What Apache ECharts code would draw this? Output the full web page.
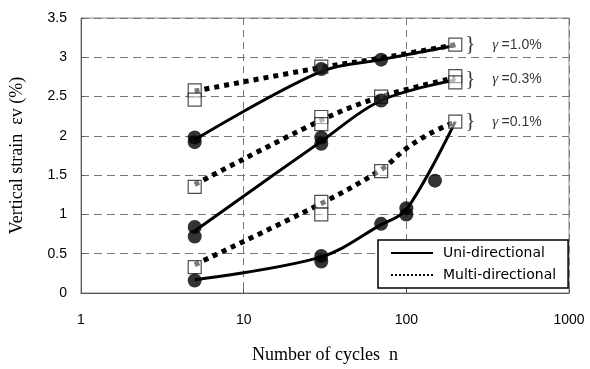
<!DOCTYPE html>
<html><head><meta charset="utf-8">
<script src="https://cdn.jsdelivr.net/npm/echarts@6/dist/echarts.min.js"></script>
<style>html,body{margin:0;padding:0;background:#fff}#c{width:590px;height:369px}</style>
</head><body><div id="c"></div>
<script>
// ---- data ----
const xMin = 1, xMax = 1000;
const yMin = 0, yMax = 3.5, yStep = 0.5;

// fitted curves (cycles, vertical strain %)
const uniCurve10  = [[5,1.95],[30,2.82],[70,2.97],[200,3.15]];
const multiCurve10 = [[5,2.57],[30,2.87],[70,2.99],[200,3.16]];
const uniCurve03  = [[5,0.79],[30,1.93],[70,2.45],[200,2.71]];
const multiCurve03 = [[5,1.38],[30,2.2],[70,2.5],[200,2.74]];
const uniCurve01  = [[5,0.17],[30,0.46],[70,0.87],[100,1.06],[200,2.18]];
const multiCurve01 = [[5,0.36],[30,1.14],[70,1.57],[100,1.84],[140,2.03],[200,2.18]];

// measured points
const uniPoints = [
  [5,1.98],[5,1.92],[30,2.85],[70,2.97],
  [5,0.84],[5,0.72],[30,1.98],[30,1.9],[70,2.45],
  [5,0.16],[30,0.47],[30,0.4],[70,0.88],[100,1.08],[100,1.0],[150,1.43]
];
const multiPoints = [
  [5,2.58],[5,2.46],[30,2.88],[200,3.16],
  [5,1.35],[30,2.24],[30,2.15],[70,2.5],[200,2.76],[200,2.68],
  [5,0.33],[30,1.16],[30,1.0],[70,1.55],[200,2.18]
];

// strain-amplitude annotations
const gammaText = ['=1.0%', '=0.3%', '=0.1%'];
const gammaAnchor = [[200,3.16],[200,2.72],[200,2.18]];

const uniName = 'Uni-directional';
const multiName = 'Multi-directional';

function uniCurve(data) {
  return {type:'line', name:uniName, data:data, symbol:'none', smooth:0.35, z:2, silent:true,
          lineStyle:{color:'#000', width:3, type:'solid'}, itemStyle:{color:'#000'}};
}
function multiCurve(data) {
  return {type:'line', name:multiName, data:data, symbol:'none', smooth:0.35, z:2, silent:true,
          lineStyle:{color:'#000', width:5, type:'dotted'}, itemStyle:{color:'#000'}};
}

const chart = echarts.init(document.getElementById('c'), null, {renderer:'canvas'});
chart.setOption({
  animation:false,
  backgroundColor:'#fff',
  grid:{left:81, right:21, top:18, bottom:75, show:true, borderColor:'#888', borderWidth:1},
  legend:{
    data:[uniName, multiName], orient:'vertical', left:378, top:240,
    padding:[6,12,6,12], itemGap:8, itemWidth:42, itemHeight:14,
    backgroundColor:'#fff', borderColor:'#000', borderWidth:1.5,
    itemStyle:{color:'rgba(0,0,0,0)', borderWidth:0, opacity:0},
    textStyle:{fontFamily:'DejaVu Sans', fontSize:14, color:'#000', padding:[0,0,0,5]}
  },
  xAxis:{
    type:'log', logBase:10, min:xMin, max:xMax,
    name:'Number of cycles  n', nameLocation:'middle', nameGap:53,
    nameTextStyle:{fontFamily:'Liberation Serif', fontSize:18, color:'#000'},
    axisLine:{show:true, lineStyle:{color:'#555', width:1}},
    axisTick:{show:true, inside:true, length:4, lineStyle:{color:'#555'}},
    axisLabel:{fontFamily:'Liberation Sans', fontSize:14, color:'#000', margin:20,
               formatter:function(v){ return String(Math.round(v)); }},
    splitLine:{show:true, lineStyle:{color:'#777', type:[7,5], width:1}}
  },
  yAxis:{
    type:'value', min:yMin, max:yMax, interval:yStep,
    name:'Vertical strain  εv (%)', nameLocation:'middle', nameGap:55,
    nameTextStyle:{fontFamily:'Liberation Serif', fontSize:18, color:'#000'},
    axisLine:{show:true, lineStyle:{color:'#555', width:1}},
    axisTick:{show:true, inside:true, length:3, lineStyle:{color:'#555'}},
    axisLabel:{fontFamily:'Liberation Sans', fontSize:14, color:'#000', margin:14},
    splitLine:{show:true, lineStyle:{color:'#777', type:[8,5], width:1}}
  },
  series:[
    uniCurve(uniCurve10), uniCurve(uniCurve03), uniCurve(uniCurve01),
    multiCurve(multiCurve10), multiCurve(multiCurve03), multiCurve(multiCurve01),
    {type:'scatter', name:'uniPts', data:uniPoints, symbol:'circle', symbolSize:14,
     itemStyle:{color:'#000'}, z:4, silent:true},
    {type:'scatter', name:'multiPts', data:multiPoints, symbol:'rect', symbolSize:13,
     itemStyle:{color:'rgba(255,255,255,0.6)', borderColor:'#222', borderWidth:1.2}, z:3, silent:true},
    {type:'scatter', name:'brace', data:gammaAnchor, symbolSize:0, z:5, silent:true,
     label:{show:true, position:'right', distance:10, formatter:'}',
       fontFamily:'Liberation Serif', fontSize:21, color:'#000'}},
    {type:'scatter', name:'gamma', data:gammaAnchor, symbolSize:0, z:5, silent:true,
     label:{show:true, position:'right', distance:37,
       formatter:function(p){ return '{g|γ} {t|' + gammaText[p.dataIndex] + '}'; },
       rich:{
         g:{fontFamily:'Liberation Serif', fontStyle:'italic', fontSize:15, color:'#000'},
         t:{fontFamily:'Liberation Sans', fontSize:14, color:'#000'}
       }}}
  ]
});
</script></body></html>
